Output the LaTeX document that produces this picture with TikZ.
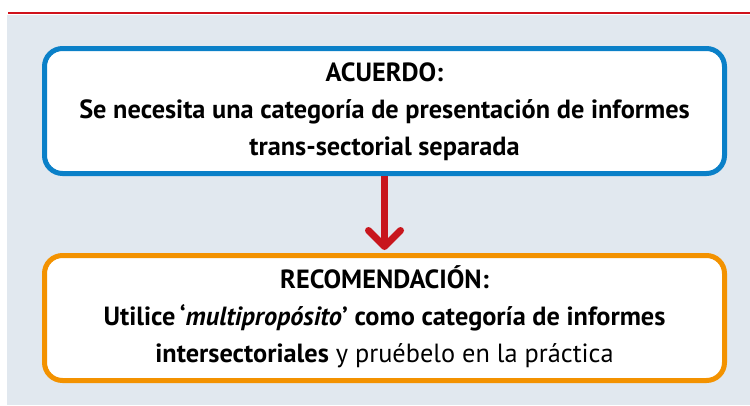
\documentclass[tikz,border=0pt]{standalone}
\usepackage{fontspec}
\setmainfont{PT Sans}
\usetikzlibrary{arrows.meta}
\definecolor{bgc}{HTML}{E1E8EF}
\definecolor{blueb}{HTML}{0A80C8}
\definecolor{orangeb}{HTML}{F39200}
\definecolor{redc}{HTML}{C8161D}
\definecolor{redline}{HTML}{D0121B}
\tikzset{
  box/.style={draw, fill=white, line width=5pt, rounded corners=18pt, minimum width=680pt, minimum height=125pt, inner sep=0pt, align=center, font=\fontsize{26.3}{36.8}\selectfont},
  conn/.style={draw=redc, line width=7pt, -{Straight Barb[length=16pt,width=32pt,round]}}
}
\begin{document}
\begin{tikzpicture}[x=1pt,y=-1pt]
\useasboundingbox (0,0) rectangle (750,405);
\fill[bgc] (7,15) rectangle (750,405);
\draw[redline, line width=2pt] (8,13) -- (750,13);
\node[box, draw=blueb] (acuerdo) at (384.5,111) {\raisebox{-2.5pt}{\begin{tabular}{@{}c@{}}\bfseries ACUERDO:\\ \bfseries Se necesita una categoría de presentación de informes\\ \bfseries trans-sectorial separada\end{tabular}}};
\node[box, draw=orangeb] (recom) at (384.5,318) {\raisebox{-4pt}{\begin{tabular}{@{}c@{}}\bfseries RECOMENDACIÓN:\\ \bfseries Utilice\,‘\textit{multipropósito}’ como categoría de informes\\ \textbf{intersectoriales} y pruébelo en la práctica\end{tabular}}};
\draw[conn] (acuerdo.south) -- ([yshift=3pt]recom.north);
\end{tikzpicture}
\end{document}
